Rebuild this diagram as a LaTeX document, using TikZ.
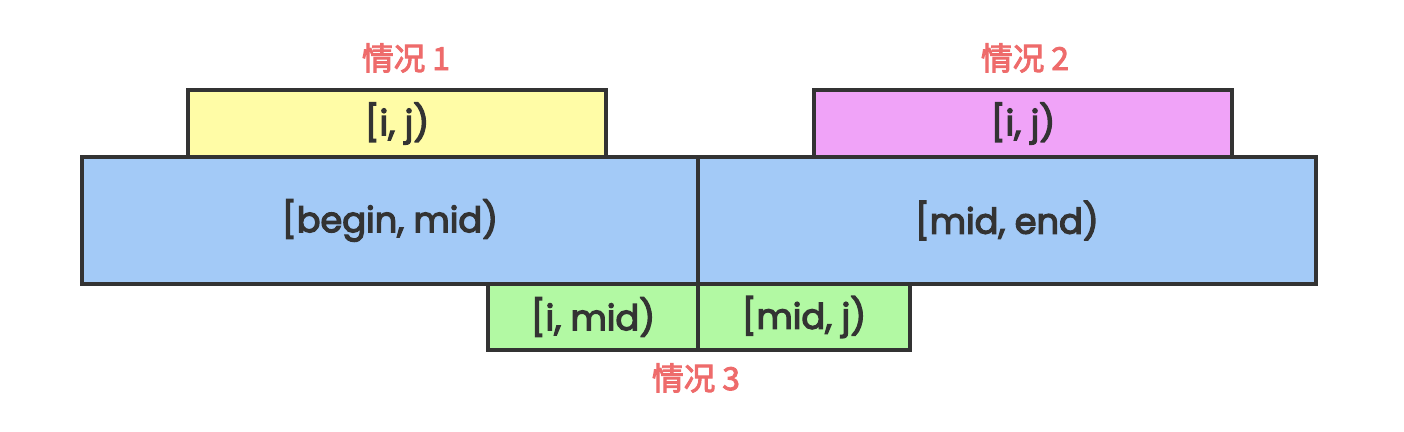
\documentclass[tikz,border=0pt]{standalone}
\usepackage{fontspec}
\setmainfont{Poppins}[FakeBold=3.6]
\newfontfamily\cjk{Noto Sans CJK SC}[FakeBold=3]
\usetikzlibrary{positioning}
\definecolor{edgegray}{HTML}{333333}
\definecolor{caseyellow}{HTML}{FFFCA6}
\definecolor{casepink}{HTML}{F0A3F8}
\definecolor{caseblue}{HTML}{A3CAF7}
\definecolor{casegreen}{HTML}{B2F9A3}
\definecolor{casered}{HTML}{EE6B6B}
\tikzset{
    % range boxes
    rangebox/.style={
           rectangle,
           draw=edgegray, line width=0.08cm,
           inner sep=0pt, outer sep=0pt,
           text=edgegray,
           font=\fontsize{20}{24}\selectfont,
           text centered},
    % case captions
    caselabel/.style={
           text=casered,
           font=\cjk\fontsize{18}{21}\selectfont}
}
\begin{document}
\begin{tikzpicture}[x=0.02cm,y=-0.02cm]
\useasboundingbox (0,0) rectangle (1404,432);

\node[rangebox, fill=caseblue, minimum width=12.32cm, minimum height=2.54cm](bl) at (390,220.5){[begin, mid)};
\node[rangebox, fill=caseblue, minimum width=12.36cm, minimum height=2.54cm, right=0pt of bl](br){[mid, end)};

\node[rangebox, fill=caseyellow, minimum width=8.36cm, minimum height=1.34cm](ij1) at (397,123.5){[i, j)};
\node[rangebox, fill=casepink, minimum width=8.36cm, minimum height=1.34cm](ij2) at (1023,123.5){[i, j)};

\node[rangebox, fill=casegreen, minimum width=4.2cm, minimum height=1.32cm](gl) at (593,317){[i, mid)};
\node[rangebox, fill=casegreen, minimum width=4.24cm, minimum height=1.32cm, right=0pt of gl](gr){[mid, j)};

\node[caselabel](c1) at (406,58){情况 1};
\node[caselabel](c2) at (1025,58){情况 2};
\node[caselabel](c3) at (696,378){情况 3};

\end{tikzpicture}
\end{document}
